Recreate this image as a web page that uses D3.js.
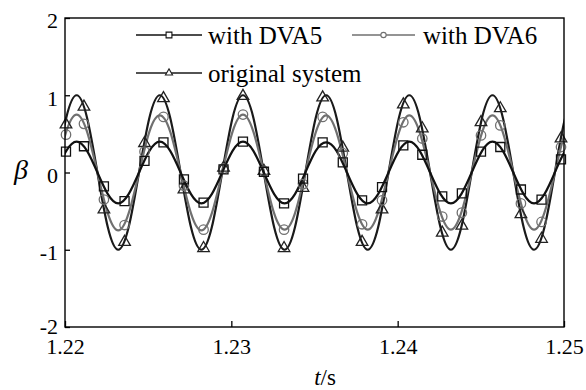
<!DOCTYPE html>
<html>
<head>
<meta charset="utf-8">
<script src="https://cdn.jsdelivr.net/npm/d3@7"></script>
<style>
  html, body { margin: 0; padding: 0; background: #fff; }
  svg { display: block; }
  svg text { font-family: "Liberation Serif", "DejaVu Serif", serif; fill: #000; }
</style>
</head>
<body>
<svg id="chart" width="586" height="390"></svg>
<script>
// ---------- data ----------
const xDomain = [1.22, 1.25];
const yDomain = [-2, 2];
const xTicks = [1.22, 1.23, 1.24, 1.25];
const yTicks = [-2, -1, 0, 1, 2];
const xTickLabels = ["1.22", "1.23", "1.24", "1.25"];
const yTickLabels = ["-2", "-1", "0", "1", "2"];

const seriesNames = ["with DVA5", "with DVA6", "original system"];

// curve knots (time, s)
const curveT = [1.219450, 1.220075, 1.220700, 1.221325, 1.221950, 1.222575, 1.223200, 1.223825,
  1.224450, 1.225075, 1.225700, 1.226325, 1.226950, 1.227575, 1.228200, 1.228825,
  1.229450, 1.230075, 1.230700, 1.231325, 1.231950, 1.232575, 1.233200, 1.233825,
  1.234450, 1.235075, 1.235700, 1.236325, 1.236950, 1.237575, 1.238200, 1.238825,
  1.239450, 1.240075, 1.240700, 1.241325, 1.241950, 1.242575, 1.243200, 1.243825,
  1.244450, 1.245075, 1.245700, 1.246325, 1.246950, 1.247575, 1.248200, 1.248825,
  1.249450, 1.250075, 1.250700];

const curveDVA5 = [0, 0.28, 0.40, 0.28, 0, -0.28, -0.40, -0.28,
  0, 0.28, 0.40, 0.28, 0, -0.28, -0.40, -0.28,
  0, 0.28, 0.40, 0.28, 0, -0.28, -0.40, -0.28,
  0, 0.28, 0.39, 0.28, 0, -0.28, -0.40, -0.28,
  0, 0.28, 0.40, 0.28, 0, -0.28, -0.40, -0.28,
  0, 0.28, 0.40, 0.28, 0, -0.28, -0.40, -0.28,
  0, 0.28, 0.40];

const curveDVA6 = [0, 0.53, 0.75, 0.53, 0, -0.53, -0.75, -0.53,
  0, 0.53, 0.74, 0.53, 0, -0.53, -0.75, -0.53,
  0, 0.53, 0.75, 0.53, 0, -0.53, -0.74, -0.53,
  0, 0.52, 0.74, 0.52, 0, -0.52, -0.74, -0.52,
  0, 0.52, 0.74, 0.52, 0, -0.52, -0.74, -0.52,
  0, 0.52, 0.74, 0.52, 0, -0.52, -0.74, -0.52,
  0, 0.52, 0.74];

const curveOrig = [0, 0.71, 1.00, 0.71, 0, -0.71, -1.00, -0.71,
  0, 0.71, 1.00, 0.71, 0, -0.71, -1.00, -0.71,
  0, 0.71, 1.00, 0.71, 0, -0.71, -1.00, -0.71,
  0, 0.71, 1.00, 0.71, 0, -0.71, -1.00, -0.71,
  0, 0.71, 1.00, 0.71, 0, -0.71, -1.00, -0.71,
  0, 0.71, 1.00, 0.71, 0, -0.71, -1.00, -0.71,
  0, 0.71, 1.00];

// marker samples (time, s)
const markerT = [1.22006, 1.22114, 1.22234, 1.22358, 1.22478, 1.22592, 1.22715, 1.22833,
  1.22953, 1.23070, 1.23196, 1.23317, 1.23431, 1.23549, 1.23670, 1.23786,
  1.23906, 1.24034, 1.24148, 1.24268, 1.24386, 1.24501, 1.24617, 1.24741,
  1.24865, 1.24982];

const markDVA5 = [0.27, 0.34, -0.18, -0.37, 0.15, 0.39, -0.09, -0.39,
  0.04, 0.40, 0.01, -0.40, -0.08, 0.39, 0.13, -0.36,
  -0.19, 0.35, 0.23, -0.31, -0.27, 0.27, 0.33, -0.22,
  -0.35, 0.17];

const markDVA6 = [0.49, 0.63, -0.35, -0.68, 0.27, 0.72, -0.17, -0.74,
  0.05, 0.75, 0.02, -0.74, -0.15, 0.72, 0.25, -0.67,
  -0.36, 0.65, 0.44, -0.57, -0.52, 0.48, 0.61, -0.40,
  -0.64, 0.33];

const markOrig = [0.62, 0.85, -0.48, -0.90, 0.38, 0.96, -0.22, -0.98,
  0.06, 0.99, 0.02, -0.98, -0.20, 0.97, 0.32, -0.90,
  -0.48, 0.88, 0.57, -0.78, -0.69, 0.65, 0.83, -0.54,
  -0.86, 0.44];

// ---------- layout ----------
const svg = d3.select("#chart");
const L = 65, R = 564, T = 18, B = 327;
const x = d3.scaleLinear().domain(xDomain).range([L, R]);
const y = d3.scaleLinear().domain(yDomain).range([B, T]);

const series = [
  { name: seriesNames[2], curve: curveOrig, marks: markOrig, color: "#1a1a1a", mcolor: "#222", sym: d3.symbolTriangle, size: 58, lsize: 22 },
  { name: seriesNames[1], curve: curveDVA6, marks: markDVA6, color: "#707070", mcolor: "#707070", sym: d3.symbolCircle, size: 70, lsize: 22 },
  { name: seriesNames[0], curve: curveDVA5, marks: markDVA5, color: "#111", mcolor: "#111", sym: d3.symbolSquare, size: 81, lsize: 34 }
];

svg.append("defs").append("clipPath").attr("id", "plotclip")
  .append("rect").attr("x", L).attr("y", T).attr("width", R - L).attr("height", B - T);

// curves
const line = d3.line().x(d => x(d[0])).y(d => y(d[1])).curve(d3.curveNatural);
const gCurves = svg.append("g").attr("clip-path", "url(#plotclip)");
series.forEach(s => {
  gCurves.append("path")
    .datum(curveT.map((t, i) => [t, s.curve[i]]))
    .attr("d", line)
    .attr("fill", "none")
    .attr("stroke", s.color)
    .attr("stroke-width", 2.2);
});

// markers
series.forEach(s => {
  svg.append("g").selectAll("path")
    .data(markerT.map((t, i) => [t, s.marks[i]]))
    .join("path")
    .attr("transform", d => `translate(${x(d[0])},${y(d[1])})`)
    .attr("d", d3.symbol(s.sym, s.size))
    .attr("fill", "none")
    .attr("stroke", s.mcolor)
    .attr("stroke-width", 1.3);
});

// axes
const tickFont = 22;
const xAxis = d3.axisBottom(x).tickValues(xTicks).tickFormat((d, i) => xTickLabels[i])
  .tickSizeInner(-6).tickSizeOuter(0).tickPadding(11);
const gx = svg.append("g").attr("transform", `translate(0,${B})`).call(xAxis)
  .attr("font-family", null).attr("font-size", tickFont);
gx.select(".domain").remove();
gx.selectAll("line").attr("stroke", "#000").attr("stroke-width", 1.3);

const yAxis = d3.axisLeft(y).tickValues(yTicks).tickFormat((d, i) => yTickLabels[i])
  .tickSizeInner(-5).tickSizeOuter(0).tickPadding(7);
const gy = svg.append("g").attr("transform", `translate(${L},0)`).call(yAxis)
  .attr("font-family", null).attr("font-size", tickFont);
gy.select(".domain").remove();
gy.selectAll("line").attr("stroke", "#000").attr("stroke-width", 1.3);
gy.selectAll("text").attr("dy", d => d === yTicks[0] ? "0.3em" : "0.45em");

// frame
svg.append("rect").attr("x", L).attr("y", T).attr("width", R - L).attr("height", B - T)
  .attr("fill", "none").attr("stroke", "#000").attr("stroke-width", 1.4);

// axis titles
svg.append("text").attr("x", 21).attr("y", 179).attr("text-anchor", "middle")
  .attr("font-size", 28).attr("font-style", "italic").text("β");
const xt = svg.append("text").attr("x", 325).attr("y", 385).attr("text-anchor", "middle")
  .attr("font-size", 23);
xt.append("tspan").attr("font-style", "italic").text("t");
xt.append("tspan").text("/s");

// legend
const legendItems = [
  { s: series[2], x1: 136, x2: 202, y: 35, tx: 208 },
  { s: series[1], x1: 352, x2: 415, y: 35, tx: 423 },
  { s: series[0], x1: 136, x2: 202, y: 73, tx: 208 }
];
const gl = svg.append("g");
legendItems.forEach(it => {
  gl.append("line").attr("x1", it.x1).attr("x2", it.x2).attr("y1", it.y).attr("y2", it.y)
    .attr("stroke", it.s.color).attr("stroke-width", 1.6);
  gl.append("path").attr("transform", `translate(${(it.x1 + it.x2) / 2},${it.y})`)
    .attr("d", d3.symbol(it.s.sym, it.s.lsize))
    .attr("fill", "#fff").attr("stroke", it.s.mcolor).attr("stroke-width", 1.1);
  gl.append("text").attr("x", it.tx).attr("y", it.y + 9).attr("font-size", 25).text(it.s.name);
});
</script>
</body>
</html>
